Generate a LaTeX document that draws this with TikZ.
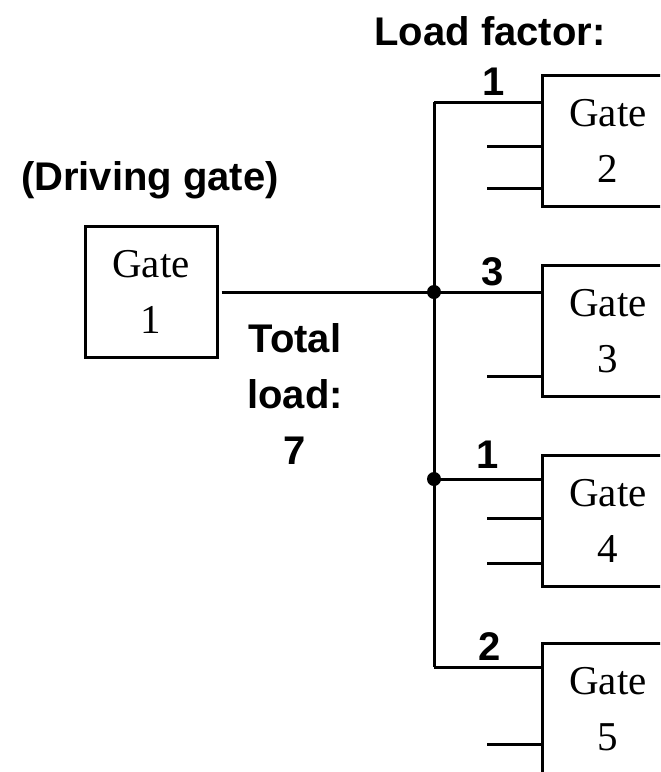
\documentclass[tikz,border=0pt]{standalone}
\usepackage{fontspec}
\setmainfont{Liberation Serif}
\newfontfamily\arialfont{Liberation Sans}
\tikzset{
    gate/.style={rectangle, draw=black, line width=1.5pt, minimum width=66pt, minimum height=65.5pt,
        inner sep=0, align=center, font=\fontsize{20.5}{28}\selectfont},
    loadlabel/.style={inner sep=0, align=center, font=\arialfont\bfseries\fontsize{20}{28}\selectfont},
    wire/.style={line width=1.5pt},
    junction/.style={circle, fill=black, inner sep=0, minimum size=7pt}
}

\begin{document}
\begin{tikzpicture}[x=0.5pt,y=-0.5pt]
    \useasboundingbox (0,0) rectangle (660,772);
    \clip (0,0) rectangle (660,772);

    % gates
    \node[gate] (g1) at (151,292) {Gate\\1};
    \node[gate] (g2) at (608,141) {Gate\\2};
    \node[gate] (g3) at (608,331) {Gate\\3};
    \node[gate] (g4) at (608,521) {Gate\\4};
    \node[gate] (g5) at (608,709) {Gate\\5};

    % fan-out bus
    \coordinate (t2) at (434,102);
    \coordinate (t3) at (434,292);
    \coordinate (t4) at (434,479);
    \coordinate (t5) at (434,667);
    \draw[wire, shorten <=1.5pt] (g1.east) -- (t3);
    \draw[wire] (t2) -- (t5);
    \foreach \i in {2,...,5}
        \draw[wire] (t\i) -- (t\i -| g\i.west);
    \node[junction] at (t3) {};
    \node[junction] at (t4) {};

    % other inputs
    \foreach \g/\dy in {g2/-2.5pt, g2/-23.5pt, g3/-22.5pt, g4/1.5pt, g4/-21pt, g5/-17.5pt}
        \draw[wire] ([yshift=\dy]\g.west) -- ++(-54,0);

    % load factors
    \node[loadlabel] (lf) at (490,31) {Load factor:};
    \node[loadlabel] (f2) at (494,82) {1};
    \node[loadlabel] (f3) at (493,272) {3};
    \node[loadlabel] (f4) at (488,455) {1};
    \node[loadlabel] (f5) at (490,647) {2};

    \node[loadlabel] (drv) at (150,180) {(Driving gate)};
    \node[loadlabel, anchor=north] (total) at (295,323) {Total\\load:\\7};
\end{tikzpicture}
\end{document}
